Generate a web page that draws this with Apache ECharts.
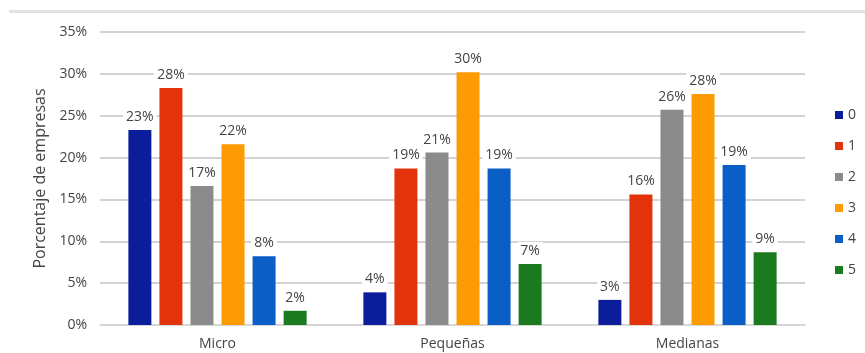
<!DOCTYPE html>
<html>
<head>
<meta charset="utf-8">
<script src="https://cdn.jsdelivr.net/npm/echarts@6/dist/echarts.min.js"></script>
<style>
  html, body { margin: 0; padding: 0; background: #ffffff; }
  #chart { width: 865px; height: 353px; }
</style>
</head>
<body>
<div id="chart"></div>
<script>
// Company size groups on the x axis
const categories = ['Micro', 'Pequeñas', 'Medianas'];

// Share of companies (%) per group, one array per series
const series0 = [23.3, 3.9, 3.0];
const series1 = [28.3, 18.7, 15.6];
const series2 = [16.6, 20.6, 25.7];
const series3 = [21.6, 30.2, 27.6];
const series4 = [8.2, 18.7, 19.1];
const series5 = [1.7, 7.3, 8.7];

const seriesNames = ['0', '1', '2', '3', '4', '5'];
const seriesValues = [series0, series1, series2, series3, series4, series5];
const seriesColors = ['#0c1d9c', '#e2330c', '#8b8b8b', '#fd9b05', '#0b5ec6', '#1c7a1e'];

const yTicks = { min: 0, max: 35, interval: 5 };

const textColor = '#444444';
const fontFamily = '"Open Sans", "Noto Sans", sans-serif';

const chart = echarts.init(document.getElementById('chart'));

chart.setOption({
  animation: false,
  backgroundColor: '#ffffff',
  textStyle: { fontFamily: fontFamily, color: textColor },
  graphic: [{
    type: 'rect',
    shape: { x: 9, y: 10, width: 856, height: 3 },
    style: { fill: '#e2e2e2' },
    silent: true
  }],
  grid: { left: 100, right: 60, top: 32, bottom: 28 },
  legend: {
    orient: 'vertical',
    right: 4,
    top: 103,
    itemWidth: 8,
    itemHeight: 8,
    itemGap: 17,
    icon: 'rect',
    textStyle: { fontFamily: fontFamily, color: textColor, fontSize: 14 },
    data: seriesNames
  },
  xAxis: {
    type: 'category',
    data: categories,
    axisTick: { show: false },
    axisLine: { lineStyle: { color: '#d9d9d9', width: 1.5 } },
    axisLabel: { color: textColor, fontSize: 14, margin: 12, fontFamily: fontFamily }
  },
  yAxis: {
    type: 'value',
    min: yTicks.min,
    max: yTicks.max,
    interval: yTicks.interval,
    name: 'Porcentaje de empresas',
    nameLocation: 'middle',
    nameGap: 50,
    nameTextStyle: { color: textColor, fontSize: 16, fontFamily: fontFamily },
    axisLine: { show: false },
    axisTick: { show: false },
    axisLabel: { color: textColor, fontSize: 14, margin: 13, formatter: v => v + '%', fontFamily: fontFamily },
    splitLine: { lineStyle: { color: '#c4c4c4', width: 1.5 } }
  },
  series: seriesNames.map((name, i) => ({
    name: name,
    type: 'bar',
    data: seriesValues[i],
    barWidth: 23,
    barGap: '35%',
    itemStyle: { color: seriesColors[i] },
    label: {
      show: true,
      position: 'top',
      distance: 4,
      color: textColor,
      fontSize: 14,
      fontFamily: fontFamily,
      backgroundColor: '#ffffff',
      padding: [2, 3],
      formatter: p => Math.round(p.value) + '%'
    }
  }))
});
</script>
</body>
</html>
